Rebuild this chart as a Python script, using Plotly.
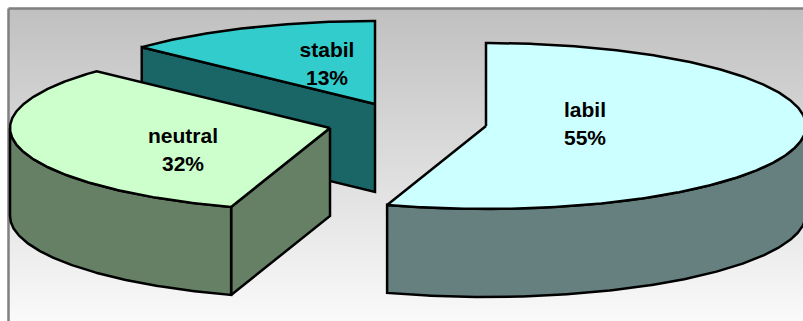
import numpy as np
import plotly.graph_objects as go

WIDTH = 803
HEIGHT = 321

categories = ["labil", "neutral", "stabil"]
values = [55, 32, 13]
top_colors = ["#CCFFFF", "#CCFFCC", "#33CCCC"]
side_colors = ["#668080", "#668066", "#1A6666"]

# pie apex of each exploded slice, in page pixels
apex_x = [486, 330, 375]
apex_y = [126, 128, 104]
label_x = [585, 183, 327]
label_y = [112, 138, 52]

RX = 320
RY = 83
DEPTH = 88
LINE_GAP = 28
EDGE_WIDTH = 2.5


def rim(cx, cy, start, stop, drop=0):
    t = np.radians(np.linspace(start, stop, max(int(abs(stop - start)), 2) * 2))
    return cx + RX * np.sin(t), cy - RY * np.cos(t) + drop


def add_poly(fig, x, y, color):
    fig.add_trace(
        go.Scatter(
            x=list(x) + [x[0]],
            y=list(y) + [y[0]],
            mode="lines",
            fill="toself",
            fillcolor=color,
            line=dict(color="black", width=EDGE_WIDTH),
            hoverinfo="skip",
            showlegend=False,
        )
    )


def add_side(fig, cx, cy, start, stop, color):
    x, y = rim(cx, cy, start, stop)
    bx, by = rim(cx, cy, start, stop, DEPTH)
    add_poly(fig, np.r_[x, bx[::-1]], np.r_[y, by[::-1]], color)


def add_radial_face(fig, cx, cy, angle, color):
    ex, ey = rim(cx, cy, angle, angle + 0.01)
    add_poly(fig, [cx, ex[0], ex[0], cx], [cy, ey[0], ey[0] + DEPTH, cy + DEPTH], color)


def add_top(fig, cx, cy, start, stop, color):
    x, y = rim(cx, cy, start, stop)
    add_poly(fig, np.r_[cx, x], np.r_[cy, y], color)


# slice angles measured clockwise from north
edges = np.cumsum([0] + values) * 3.6
fig = go.Figure()

# chart area background
fig.add_trace(
    go.Scatter(
        x=[8.5, WIDTH + 3, WIDTH + 3, 8.5, 8.5],
        y=[8.5, 8.5, HEIGHT + 3, HEIGHT + 3, 8.5],
        mode="lines",
        fill="toself",
        fillgradient=dict(type="vertical", colorscale=[[0, "#FAFAFA"], [1, "#C0C0C0"]]),
        line=dict(color="#808080", width=2.5),
        hoverinfo="skip",
        showlegend=False,
    )
)

# back to front: stabil, labil, neutral
add_radial_face(fig, apex_x[2], apex_y[2], edges[2], side_colors[2])
add_top(fig, apex_x[2], apex_y[2], edges[2], edges[3], top_colors[2])

add_side(fig, apex_x[0], apex_y[0], 90, edges[1], side_colors[0])
add_top(fig, apex_x[0], apex_y[0], edges[0], edges[1], top_colors[0])

add_radial_face(fig, apex_x[1], apex_y[1], edges[1], side_colors[1])
add_side(fig, apex_x[1], apex_y[1], edges[1], 270, side_colors[1])
add_top(fig, apex_x[1], apex_y[1], edges[1], edges[2], top_colors[1])

fig.add_trace(
    go.Scatter(
        x=label_x + label_x,
        y=label_y + [y + LINE_GAP for y in label_y],
        text=categories + [f"{v}%" for v in values],
        mode="text",
        textposition="middle center",
        textfont=dict(family="Liberation Sans", size=21, color="black", weight="bold"),
        hoverinfo="skip",
        showlegend=False,
    )
)

fig.update_xaxes(range=[0, WIDTH], visible=False)
fig.update_yaxes(range=[HEIGHT, 0], visible=False)
fig.update_layout(
    width=WIDTH,
    height=HEIGHT,
    margin=dict(l=0, r=0, t=0, b=0),
    paper_bgcolor="white",
    plot_bgcolor="white",
)
fig.write_html(
    "out.html",
    config={"displayModeBar": False},
    post_script="document.body.style.margin = '0';",
)
